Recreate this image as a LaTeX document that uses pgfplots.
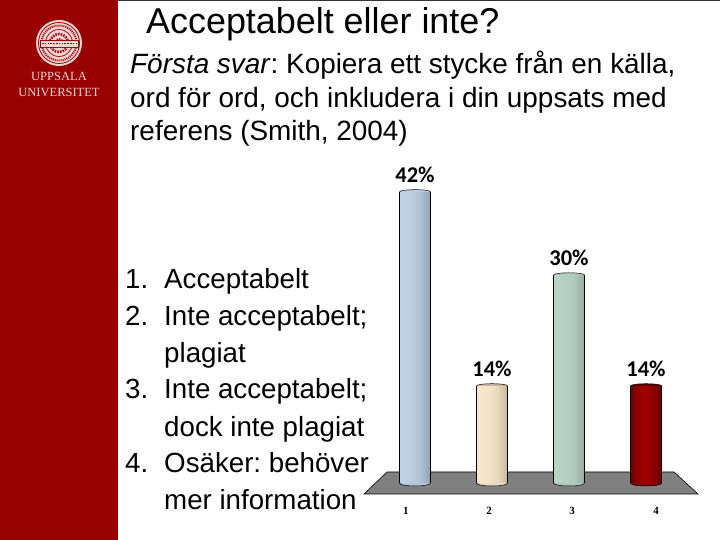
\documentclass[border=0pt]{standalone}
\usepackage{fontspec}
\setmainfont{Liberation Sans}
\newfontfamily\carl{Carlito}
\newfontfamily\ser{Liberation Serif}
\usepackage{pgfplots}
\pgfplotsset{compat=1.18}
\definecolor{uured}{HTML}{990000}
\definecolor{seal}{HTML}{F0D4D4}
\definecolor{floorg}{HTML}{808080}
\definecolor{a1}{HTML}{C2D2E8}\definecolor{a2}{HTML}{BCCCE0}\definecolor{a3}{HTML}{B0C0D2}\definecolor{a4}{HTML}{929EAE}
\definecolor{b1}{HTML}{F8E8CE}\definecolor{b2}{HTML}{F2E2C6}\definecolor{b3}{HTML}{E6D6BA}\definecolor{b4}{HTML}{C6B69E}
\definecolor{c1}{HTML}{BAD4C8}\definecolor{c2}{HTML}{B6CFC3}\definecolor{c3}{HTML}{AEC6BA}\definecolor{c4}{HTML}{96ACA2}
\definecolor{d1}{HTML}{6A0000}\definecolor{d2}{HTML}{A00000}\definecolor{d3}{HTML}{980000}\definecolor{d4}{HTML}{6E0000}
\definecolor{abot}{HTML}{B6C6DA}\definecolor{atop}{HTML}{BCCCE0}
\definecolor{bbot}{HTML}{EADABE}\definecolor{btop}{HTML}{C9B7A2}
\definecolor{cbot}{HTML}{B0C8BC}\definecolor{ctop}{HTML}{B4CCC0}
\definecolor{dbot}{HTML}{8A0000}\definecolor{dtop}{HTML}{5A0000}
\pgfdeclarehorizontalshading{cylA}{100bp}{color(0bp)=(a1);color(25bp)=(a1);color(45bp)=(a2);color(60bp)=(a3);color(75bp)=(a4);color(100bp)=(a4)}
\pgfdeclarehorizontalshading{cylB}{100bp}{color(0bp)=(b1);color(25bp)=(b1);color(45bp)=(b2);color(60bp)=(b3);color(75bp)=(b4);color(100bp)=(b4)}
\pgfdeclarehorizontalshading{cylC}{100bp}{color(0bp)=(c1);color(25bp)=(c1);color(45bp)=(c2);color(60bp)=(c3);color(75bp)=(c4);color(100bp)=(c4)}
\pgfdeclarehorizontalshading{cylD}{100bp}{color(0bp)=(d1);color(25bp)=(d1);color(42bp)=(d2);color(55bp)=(d3);color(75bp)=(d4);color(100bp)=(d4)}
\pgfdeclareplotmark{cylbot}{%
  \pgfpathmoveto{\pgfqpoint{-15.5pt}{0pt}}%
  \pgfpathcurveto{\pgfqpoint{-15.5pt}{-4pt}}{\pgfqpoint{15.5pt}{-4pt}}{\pgfqpoint{15.5pt}{0pt}}%
  \pgfusepathqfillstroke}
\pgfdeclareplotmark{cyltop}{%
  \pgfpathmoveto{\pgfqpoint{-15.5pt}{0pt}}%
  \pgfpathcurveto{\pgfqpoint{-15.5pt}{3pt}}{\pgfqpoint{15.5pt}{3pt}}{\pgfqpoint{15.5pt}{0pt}}%
  \pgfusepathqfillstroke}
% x, value, shading, bottom colour, top colour
\newcommand{\cyl}[5]{%
  \addplot[only marks, mark=cylbot, mark options={fill=#4, draw=black, line width=.5pt}, forget plot] coordinates {(#1,0)};
  \addplot[ybar, bar width=31pt, bar shift=0pt, draw=none, shading=#3, forget plot,
     nodes near coords={\pgfmathprintnumber[assume math mode=true]{\pgfplotspointmeta}\%},
     every node near coord/.style={font=\carl\bfseries\fontsize{22.5}{22.5}\selectfont, text=black, anchor=south, yshift=6pt}]
     coordinates {(#1,#2)};
  \addplot[ycomb, black, line width=.6pt, xshift=-15.5pt, no marks, forget plot] coordinates {(#1,#2)};
  \addplot[ycomb, black, line width=.6pt, xshift=15.5pt, no marks, forget plot] coordinates {(#1,#2)};
  \addplot[only marks, mark=cyltop, mark options={fill=#5, draw=black, line width=.5pt}, forget plot] coordinates {(#1,#2)};
}
\frenchspacing
\begin{document}
\frenchspacing
\begin{tikzpicture}[x=1pt,y=1pt]
\path[use as bounding box] (0,0) rectangle (720,540);
\fill[white] (0,0) rectangle (720,540);
\fill[uured] (0,0) rectangle (118,540);
\fill[black!80] (118,539.2) rectangle (720,540);
% logo
\fill[seal] (59,497) circle (23);
\draw[uured,line width=.8pt] (59,497) circle (20.5);
\draw[uured,line width=2pt,dash pattern=on 1pt off 1pt] (59,497) circle (17.5);
\draw[uured,line width=.7pt] (59,497) circle (13.5);
\draw[uured,line width=2.5pt,dash pattern=on 1.5pt off 1.2pt] (59,497) circle (9);
\draw[uured,line width=2pt,dash pattern=on 1.2pt off 1.2pt] (59,497) circle (4);
\fill[seal] (40,493) rectangle (78,500);
\draw[uured,line width=.6pt] (40,493) rectangle (78,500);
\draw[uured,line width=1.6pt,dash pattern=on 1.6pt off 1.2pt] (42,496.5) -- (76,496.5);
\node[text=seal,font=\ser\fontsize{12.5}{12.5}\selectfont] at (59,464) {UPPSALA};
\node[text=seal,font=\ser\fontsize{12.5}{12.5}\selectfont] at (59,447.5) {UNIVERSITET};
% title and text
\node[anchor=base west,inner sep=0pt,font=\fontsize{35.9}{36}\selectfont] at (146,506) {Acceptabelt eller inte?};
\node[anchor=base west,inner sep=0pt,font=\fontsize{27.9}{28}\selectfont] at (130,466) {\frenchspacing\textit{Första svar}: Kopiera ett stycke från en källa,};
\node[anchor=base west,inner sep=0pt,font=\fontsize{27.9}{28}\selectfont] at (130,432) {ord för ord, och inkludera i din uppsats med};
\node[anchor=base west,inner sep=0pt,font=\fontsize{27.9}{28}\selectfont] at (130,399) {referens (Smith, 2004)};
\begin{scope}[every node/.style={anchor=base west,inner sep=0pt,font=\fontsize{27.7}{28}\selectfont}]
\node at (125,251.5) {1.}; \node at (164,251.5) {Acceptabelt};
\node at (125,214.5) {2.}; \node at (164,214.5) {Inte acceptabelt;};
\node at (164,177.5) {plagiat};
\node at (125,141) {3.}; \node at (164,141) {Inte acceptabelt;};
\node at (164,103.5) {dock inte plagiat};
\node at (125,67) {4.}; \node at (164,67) {\frenchspacing Osäker: behöver};
\node at (164,30) {mer information};
\end{scope}
% floor
\fill[floorg,draw=black,line width=.6pt] (387,68) -- (674,68) -- (698,46) -- (364,46) -- cycle;
\begin{axis}[
  at={(376.5pt,57pt)}, anchor=south west, scale only axis,
  width=323.4pt, height=311.85pt,
  xmin=0.5, xmax=4.7, ymin=0, ymax=45,
  clip=false,
  axis line style={draw=none},
  major tick length=0pt,
  ytick=\empty,
  xtick={0.883,1.961,3.039,4.130},
  xticklabels={1,2,3,4},
  xticklabel style={font=\ser\bfseries\fontsize{11}{11}\selectfont, yshift=-21pt},
]
\cyl{1}{42}{cylA}{abot}{atop}
\cyl{2}{14}{cylB}{bbot}{btop}
\cyl{3}{30}{cylC}{cbot}{ctop}
\cyl{4}{14}{cylD}{dbot}{dtop}
\end{axis}
\end{tikzpicture}
\end{document}
